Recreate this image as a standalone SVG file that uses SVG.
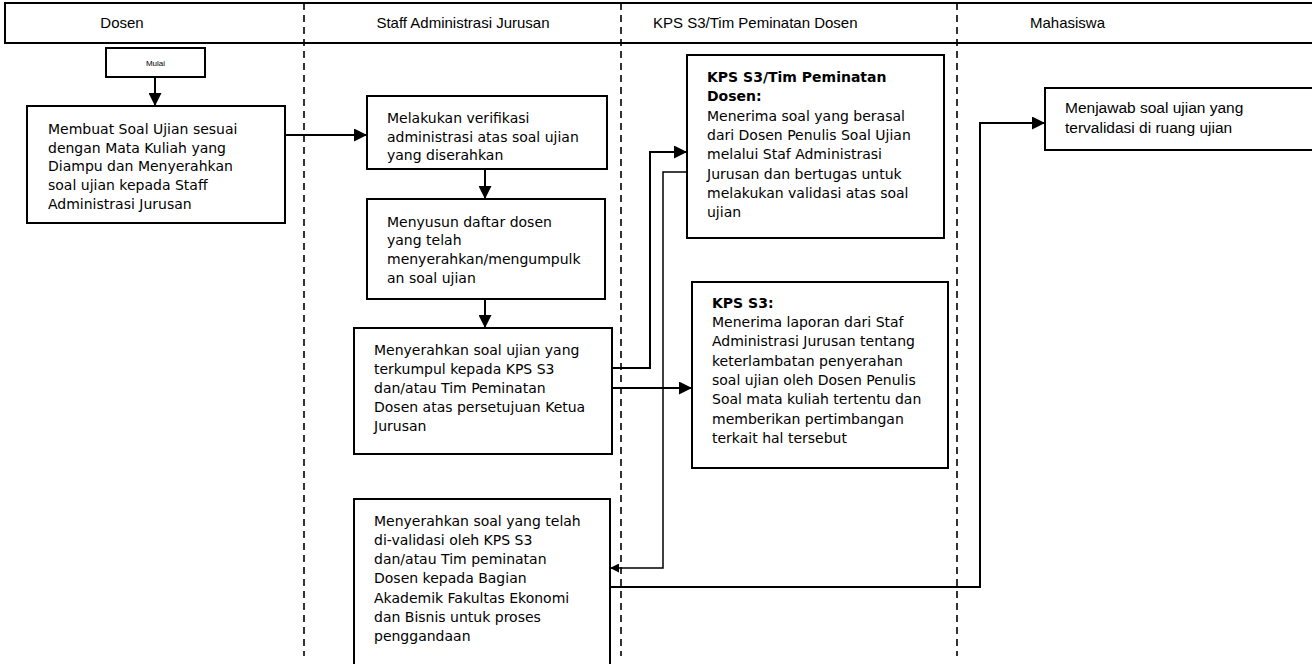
<svg xmlns="http://www.w3.org/2000/svg" width="1312" height="664" viewBox="0 0 1312 664">
<defs>
<style>
.box{fill:#fff;stroke:#000;stroke-width:2}
.lane{stroke:#000;stroke-width:1.6;stroke-dasharray:7,5;fill:none}
.hd{font-family:"Liberation Sans",Arial,sans-serif;font-size:15px;fill:#000}
.tx{font-family:"DejaVu Sans",Verdana,sans-serif;font-size:14px;fill:#000}
.ar{font-family:"Liberation Sans",Arial,sans-serif;font-size:15.5px;fill:#000}
.b{font-weight:bold}
.c{fill:none;stroke:#000;stroke-width:2}
.t{stroke-width:1.5}
</style>
<marker id="ah" viewBox="0 0 12 12" refX="12" refY="6" markerWidth="13" markerHeight="13" markerUnits="userSpaceOnUse" orient="auto">
<path d="M0,0 L12,6 L0,12 z" fill="#000"/>
</marker>
<marker id="as" viewBox="0 0 12 12" refX="12" refY="6" markerWidth="9" markerHeight="9" markerUnits="userSpaceOnUse" orient="auto">
<path d="M0,0 L12,6 L0,12 z" fill="#000"/>
</marker>
</defs>
<rect width="1312" height="664" fill="#fff"/>
<g id="header">
<rect x="5" y="3" width="1320" height="40" fill="#fff" stroke="#000" stroke-width="2"/>
<text class="hd" x="122" y="28" text-anchor="middle">Dosen</text>
<text class="hd" x="463" y="28" text-anchor="middle">Staff Administrasi Jurusan</text>
<text class="hd" x="653" y="28">KPS S3/Tim Peminatan Dosen</text>
<text class="hd" x="1030" y="28">Mahasiswa</text>
</g>
<g id="lanes">
<line class="lane" x1="304" y1="3" x2="304" y2="656"/>
<line class="lane" x1="621" y1="3" x2="621" y2="656"/>
<line class="lane" x1="957" y1="3" x2="957" y2="656"/>
</g>
<g id="connectors">
<path class="c" d="M155,77 V106" marker-end="url(#ah)"/>
<path class="c" d="M285,135 H367" marker-end="url(#ah)"/>
<path class="c" d="M485,169 V199" marker-end="url(#ah)"/>
<path class="c" d="M485,299 V328" marker-end="url(#ah)"/>
<path class="c" d="M612,368 H650 V152 H687" marker-end="url(#ah)"/>
<path class="c" d="M612,388 H692" marker-end="url(#ah)"/>
<path class="c t" d="M687,172 H663 V568 H610" marker-end="url(#as)"/>
<path class="c" d="M610,587 H980 V123 H1045" marker-end="url(#ah)"/>
</g>
<g id="mulai">
<rect class="box" x="106" y="48" width="99" height="29"/>
<text x="155.5" y="66" text-anchor="middle" font-family="Liberation Sans, Arial, sans-serif" font-size="8">Mulai</text>
</g>
<g id="n1">
<rect class="box" x="27" y="106" width="258" height="117"/>
<text class="tx"><tspan x="48" y="134">Membuat Soal Ujian sesuai</tspan><tspan x="48" y="153">dengan Mata Kuliah yang</tspan><tspan x="48" y="171">Diampu dan Menyerahkan</tspan><tspan x="48" y="190">soal ujian kepada Staff</tspan><tspan x="48" y="209">Administrasi Jurusan</tspan></text>
</g>
<g id="n2">
<rect class="box" x="367" y="96" width="240" height="73"/>
<text class="tx"><tspan x="387" y="123">Melakukan verifikasi</tspan><tspan x="387" y="141.5">administrasi atas soal ujian</tspan><tspan x="387" y="160">yang diserahkan</tspan></text>
</g>
<g id="n3">
<rect class="box" x="367" y="199" width="238" height="100"/>
<text class="tx"><tspan x="387" y="227">Menyusun daftar dosen</tspan><tspan x="387" y="245">yang telah</tspan><tspan x="387" y="264">menyerahkan/mengumpulk</tspan><tspan x="387" y="283">an soal ujian</tspan></text>
</g>
<g id="n4">
<rect class="box" x="354" y="328" width="258" height="126"/>
<text class="tx"><tspan x="374" y="355">Menyerahkan soal ujian yang</tspan><tspan x="374" y="374">terkumpul kepada KPS S3</tspan><tspan x="374" y="393">dan/atau Tim Peminatan</tspan><tspan x="374" y="412">Dosen atas persetujuan Ketua</tspan><tspan x="374" y="431">Jurusan</tspan></text>
</g>
<g id="n5">
<rect class="box" x="687" y="55" width="257" height="183"/>
<text class="tx"><tspan class="b" x="707" y="82">KPS S3/Tim Peminatan</tspan><tspan class="b" x="707" y="101">Dosen:</tspan><tspan x="707" y="121">Menerima soal yang berasal</tspan><tspan x="707" y="140">dari Dosen Penulis Soal Ujian</tspan><tspan x="707" y="159">melalui Staf Administrasi</tspan><tspan x="707" y="179">Jurusan dan bertugas untuk</tspan><tspan x="707" y="198">melakukan validasi atas soal</tspan><tspan x="707" y="217">ujian</tspan></text>
</g>
<g id="n6">
<rect class="box" x="692" y="282" width="256" height="186"/>
<text class="tx"><tspan class="b" x="712" y="308">KPS S3:</tspan><tspan x="712" y="327">Menerima laporan dari Staf</tspan><tspan x="712" y="346">Administrasi Jurusan tentang</tspan><tspan x="712" y="366">keterlambatan penyerahan</tspan><tspan x="712" y="385">soal ujian oleh Dosen Penulis</tspan><tspan x="712" y="404">Soal mata kuliah tertentu dan</tspan><tspan x="712" y="424">memberikan pertimbangan</tspan><tspan x="712" y="443">terkait hal tersebut</tspan></text>
</g>
<g id="n7">
<rect class="box" x="354" y="499" width="256" height="180"/>
<text class="tx"><tspan x="374" y="526">Menyerahkan soal yang telah</tspan><tspan x="374" y="545">di-validasi oleh KPS S3</tspan><tspan x="374" y="564">dan/atau Tim peminatan</tspan><tspan x="374" y="583">Dosen kepada Bagian</tspan><tspan x="374" y="603">Akademik Fakultas Ekonomi</tspan><tspan x="374" y="622">dan Bisnis untuk proses</tspan><tspan x="374" y="641">penggandaan</tspan></text>
</g>
<g id="n8">
<rect class="box" x="1045" y="88" width="300" height="62"/>
<text class="ar"><tspan x="1065" y="113">Menjawab soal ujian yang</tspan><tspan x="1065" y="133">tervalidasi di ruang ujian</tspan></text>
</g>
</svg>
